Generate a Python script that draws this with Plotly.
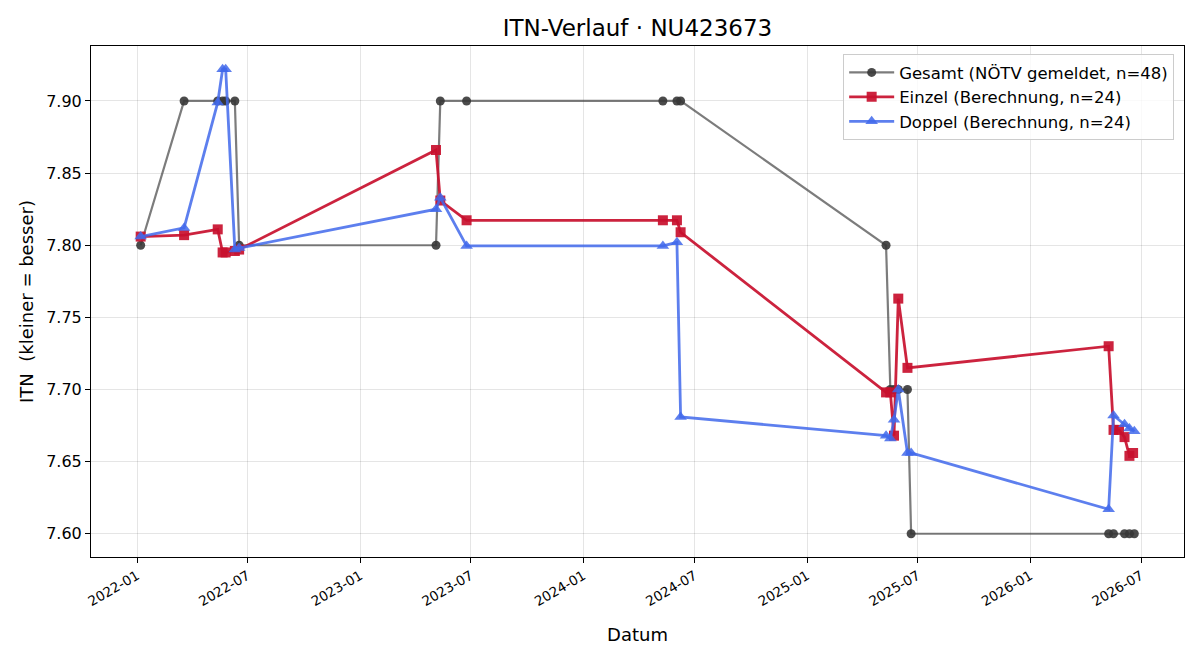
import plotly.graph_objects as go
import pandas as pd

# Data
gesamt_dates = ["2022-01-07", "2022-03-19", "2022-05-13", "2022-05-21", "2022-05-26", "2022-06-10",
                "2022-06-17", "2023-05-05", "2023-05-12", "2023-06-24", "2024-05-10", "2024-06-02",
                "2024-06-08", "2025-05-10", "2025-05-17", "2025-05-23", "2025-05-30", "2025-06-14",
                "2025-06-20", "2026-05-09", "2026-05-17", "2026-06-04", "2026-06-12", "2026-06-20"]
gesamt_vals = [7.80, 7.90, 7.90, 7.90, 7.90, 7.90,
               7.80, 7.80, 7.90, 7.90, 7.90, 7.90,
               7.90, 7.80, 7.70, 7.70, 7.70, 7.70,
               7.60, 7.60, 7.60, 7.60, 7.60, 7.60]

einzel_dates = ["2022-01-07", "2022-03-19", "2022-05-13", "2022-05-21", "2022-05-26", "2022-06-10",
                "2022-06-17", "2023-05-05", "2023-05-12", "2023-06-24", "2024-05-10", "2024-06-02",
                "2024-06-08", "2025-05-10", "2025-05-17", "2025-05-23", "2025-05-30", "2025-06-14",
                "2026-05-09", "2026-05-17", "2026-05-26", "2026-06-04", "2026-06-12", "2026-06-18"]
einzel_vals = [7.806, 7.807, 7.811, 7.795, 7.795, 7.796,
               7.797, 7.866, 7.831, 7.8173, 7.8173, 7.8173,
               7.809, 7.698, 7.698, 7.668, 7.763, 7.715,
               7.730, 7.672, 7.672, 7.667, 7.654, 7.656]

doppel_dates = gesamt_dates
doppel_vals = [7.806, 7.812, 7.899, 7.922, 7.922, 7.797,
               7.798, 7.825, 7.833, 7.7995, 7.7995, 7.802,
               7.681, 7.668, 7.666, 7.679, 7.700, 7.656,
               7.656, 7.617, 7.682, 7.676, 7.673, 7.671]

tick_dates = ["2022-01-01", "2022-07-01", "2023-01-01", "2023-07-01", "2024-01-01",
              "2024-07-01", "2025-01-01", "2025-07-01", "2026-01-01", "2026-07-01"]
tick_labels = ["2022-01", "2022-07", "2023-01", "2023-07", "2024-01",
               "2024-07", "2025-01", "2025-07", "2026-01", "2026-07"]
y_ticks = [7.60, 7.65, 7.70, 7.75, 7.80, 7.85, 7.90]

# axis ranges with 5% padding (matplotlib-like autoscale)
all_dates = pd.to_datetime(gesamt_dates + einzel_dates + doppel_dates)
dmin, dmax = all_dates.min(), all_dates.max()
pad = (dmax - dmin) * 0.05
xr = [dmin - pad, dmax + pad]
all_vals = gesamt_vals + einzel_vals + doppel_vals
vmin, vmax = min(all_vals), max(all_vals)
vpad = (vmax - vmin) * 0.05
yr = [vmin - vpad, vmax + vpad]

fig = go.Figure()
fig.add_trace(go.Scatter(
    x=gesamt_dates, y=gesamt_vals, mode="lines+markers",
    name="Gesamt (NÖTV gemeldet, n=48)",
    line=dict(color="rgba(68,68,68,0.7)", width=2.2),
    marker=dict(symbol="circle", size=9, color="rgba(55,55,55,0.9)", line=dict(width=0)),
))
fig.add_trace(go.Scatter(
    x=einzel_dates, y=einzel_vals, mode="lines+markers",
    name="Einzel (Berechnung, n=24)",
    line=dict(color="rgba(200,16,46,0.92)", width=2.8),
    marker=dict(symbol="square", size=10, color="rgba(200,16,46,0.92)", line=dict(width=0)),
))
fig.add_trace(go.Scatter(
    x=doppel_dates, y=doppel_vals, mode="lines+markers",
    name="Doppel (Berechnung, n=24)",
    line=dict(color="rgba(65,105,235,0.85)", width=2.8),
    marker=dict(symbol="triangle-up", size=11, color="rgba(65,105,235,0.85)", line=dict(width=0)),
))

font_family = "DejaVu Sans"
fig.update_layout(
    width=1200, height=660,
    margin=dict(l=91, r=16, t=46, b=103),
    paper_bgcolor="white", plot_bgcolor="white",
    font=dict(family=font_family, size=16, color="black"),
    title=dict(text="ITN-Verlauf · NU423673", x=0.5, xref="paper", xanchor="center",
               y=1 - 28 / 660, yanchor="middle", font=dict(size=23, family=font_family)),
    showlegend=True,
    legend=dict(x=0.991, xanchor="right", y=0.984, yanchor="top",
                bgcolor="rgba(255,255,255,0.8)", bordercolor="#cccccc", borderwidth=1,
                font=dict(size=16.5, family=font_family), tracegroupgap=0, itemwidth=45),
)
fig.update_xaxes(
    range=xr, tickvals=tick_dates, ticktext=tick_labels, tickangle=-30,
    showgrid=True, gridcolor="rgba(0,0,0,0.1)", gridwidth=1,
    showline=True, linecolor="black", linewidth=1, mirror=True,
    ticks="outside", ticklen=5, tickcolor="black", zeroline=False,
    tickfont=dict(size=13.5),
    title=dict(text="Datum", font=dict(size=18), standoff=20),
)
fig.update_yaxes(
    range=yr, tickvals=y_ticks, ticktext=[f"{v:.2f}" for v in y_ticks],
    showgrid=True, gridcolor="rgba(0,0,0,0.1)", gridwidth=1,
    showline=True, linecolor="black", linewidth=1, mirror=True,
    ticks="outside", ticklen=5, tickcolor="black", zeroline=False,
    tickfont=dict(size=16),
    title=dict(text="ITN  (kleiner = besser)", font=dict(size=18), standoff=7),
)

fig.write_html("out.html")
